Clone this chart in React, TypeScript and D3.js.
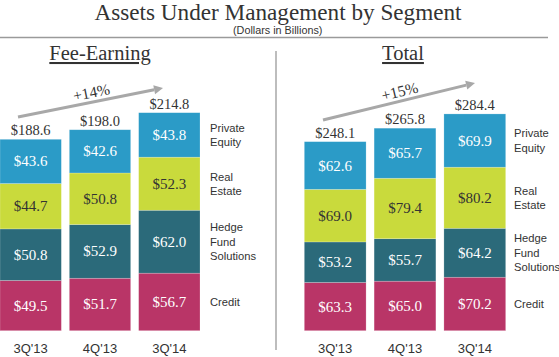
import React from "react";
import * as d3 from "d3";

const categories = ["3Q'13", "4Q'13", "3Q'14"];
const segments = ["Credit", "Hedge Fund Solutions", "Real Estate", "Private Equity"];
const legendLines = [["Credit"], ["Hedge", "Fund", "Solutions"], ["Real", "Estate"], ["Private", "Equity"]];

const feeCredit = [49.5, 51.7, 56.7];
const feeHedge = [50.8, 52.9, 62.0];
const feeRealEstate = [44.7, 50.8, 52.3];
const feePrivateEquity = [43.6, 42.6, 43.8];
const feeTotals = [188.6, 198.0, 214.8];

const totCredit = [63.3, 65.0, 70.2];
const totHedge = [53.2, 55.7, 64.2];
const totRealEstate = [69.0, 79.4, 80.2];
const totPrivateEquity = [62.6, 65.7, 69.9];
const totTotals = [248.1, 265.8, 284.4];

const colors = ["#b93567", "#2b6a7a", "#c9da3c", "#2b9bc7"];
const textColors = ["#ffffff", "#ffffff", "#333333", "#ffffff"];

const SERIF = "'Liberation Serif', 'Times New Roman', serif";
const SANS = "'Liberation Sans', Arial, sans-serif";

type PanelProps = {
  title: string;
  titleX: number;
  series: number[][];
  totals: number[];
  x0: number;
  x1: number;
  topY: number;
  legendX: number;
  arrow: [number, number, number, number];
  growth: string;
};

function Panel(p: PanelProps) {
  const bottom = 330.7;
  const y = d3.scaleLinear().domain([0, d3.max(p.totals) as number]).range([bottom, p.topY]);
  const x = d3.scaleBand<string>().domain(categories).range([p.x0, p.x1]).paddingInner(0.115).paddingOuter(0);
  const rows = categories.map((c, i) => {
    const o: any = { cat: c };
    segments.forEach((s, j) => (o[s] = p.series[j][i]));
    return o;
  });
  const stacked = d3.stack<any>().keys(segments)(rows);
  const bw = x.bandwidth();
  const last = categories.length - 1;
  const [ax1, ay1, ax2, ay2] = p.arrow;
  const ang = (Math.atan2(ay2 - ay1, ax2 - ax1) * 180) / Math.PI;
  const mx = (ax1 + ax2) / 2 + 2;
  const my = (ay1 + ay2) / 2 - 5;
  const len = Math.hypot(ax2 - ax1, ay2 - ay1);
  const ux = (ax2 - ax1) / len, uy = (ay2 - ay1) / len;
  const hl = 9, hw = 4.5;
  const bx = ax2 - ux * hl, by = ay2 - uy * hl;
  const head = `M${ax2},${ay2}L${bx - uy * hw},${by + ux * hw}L${bx + uy * hw},${by - ux * hw}Z`;
  return (
    <g>
      <text x={p.titleX} y={60} textAnchor="middle" fontFamily={SERIF} fontSize={20.5} fill="#333" textDecoration="underline">
        {p.title}
      </text>
      <line x1={ax1} y1={ay1} x2={bx} y2={by} stroke="#a8a8a8" strokeWidth={3} />
      <path d={head} fill="#a8a8a8" />
      <text x={mx} y={my} textAnchor="middle" fontFamily={SERIF} fontSize={15.5} fill="#333" transform={`rotate(${ang},${mx},${my})`}>
        {p.growth}
      </text>
      {stacked.map((layer, j) => (
        <g key={segments[j]}>
          {layer.map((d, i) => {
            const bx0 = x(categories[i]) as number;
            const yTop = y(d[1]);
            const yBot = y(d[0]);
            return (
              <g key={i}>
                <rect x={bx0} y={yTop} width={bw} height={yBot - yTop} fill={colors[j]} stroke="#ffffff" strokeOpacity={0.35} strokeWidth={0.6} />
                <text x={bx0 + bw / 2} y={(yTop + yBot) / 2 + 5} textAnchor="middle" fontFamily={SERIF} fontSize={15} fill={textColors[j]}>
                  ${p.series[j][i].toFixed(1)}
                </text>
              </g>
            );
          })}
        </g>
      ))}
      {p.totals.map((t, i) => (
        <text key={i} x={(x(categories[i]) as number) + bw / 2} y={y(t) - 4} textAnchor="middle" fontFamily={SERIF} fontSize={14.5} fill="#333">
          ${t.toFixed(1)}
        </text>
      ))}
      {categories.map((c, i) => (
        <text key={c} x={(x(c) as number) + bw / 2} y={353} textAnchor="middle" fontFamily={SANS} fontSize={13} fill="#333">
          {c}
        </text>
      ))}
      {stacked.map((layer, j) => {
        const d = layer[last];
        const cy = (y(d[0]) + y(d[1])) / 2;
        const lines = legendLines[j];
        const lh = 14.3;
        const start = cy - ((lines.length - 1) * lh) / 2 + 4;
        return (
          <text key={j} fontFamily={SANS} fontSize={11.2} fill="#333">
            {lines.map((l, k) => (
              <tspan key={k} x={p.legendX} y={start + k * lh}>
                {l}
              </tspan>
            ))}
          </text>
        );
      })}
    </g>
  );
}

export default function App() {
  return (
    <svg width={559} height={357} style={{ position: "absolute", left: 0, top: 0, background: "#fff" }}>
      <text x={278} y={19.5} textAnchor="middle" fontFamily={SERIF} fontSize={23.2} fill="#333">
        Assets Under Management by Segment
      </text>
      <text x={277.7} y={33.5} textAnchor="middle" fontFamily={SANS} fontSize={10.8} fill="#333">
        (Dollars in Billions)
      </text>
      <line x1={0} y1={37.5} x2={548} y2={37.5} stroke="#9a9a9a" strokeWidth={1.5} />
      <line x1={276} y1={51} x2={276} y2={350} stroke="#9a9a9a" strokeWidth={1.3} />
      <Panel
        title="Fee-Earning"
        titleX={100}
        series={[feeCredit, feeHedge, feeRealEstate, feePrivateEquity]}
        totals={feeTotals}
        x0={0}
        x1={200}
        topY={112.7}
        legendX={210}
        arrow={[18, 117, 163, 88]}
        growth="+14%"
      />
      <Panel
        title="Total"
        titleX={403}
        series={[totCredit, totHedge, totRealEstate, totPrivateEquity]}
        totals={totTotals}
        x0={304.3}
        x1={505.7}
        topY={114}
        legendX={514}
        arrow={[323, 120, 475, 83]}
        growth="+15%"
      />
    </svg>
  );
}
